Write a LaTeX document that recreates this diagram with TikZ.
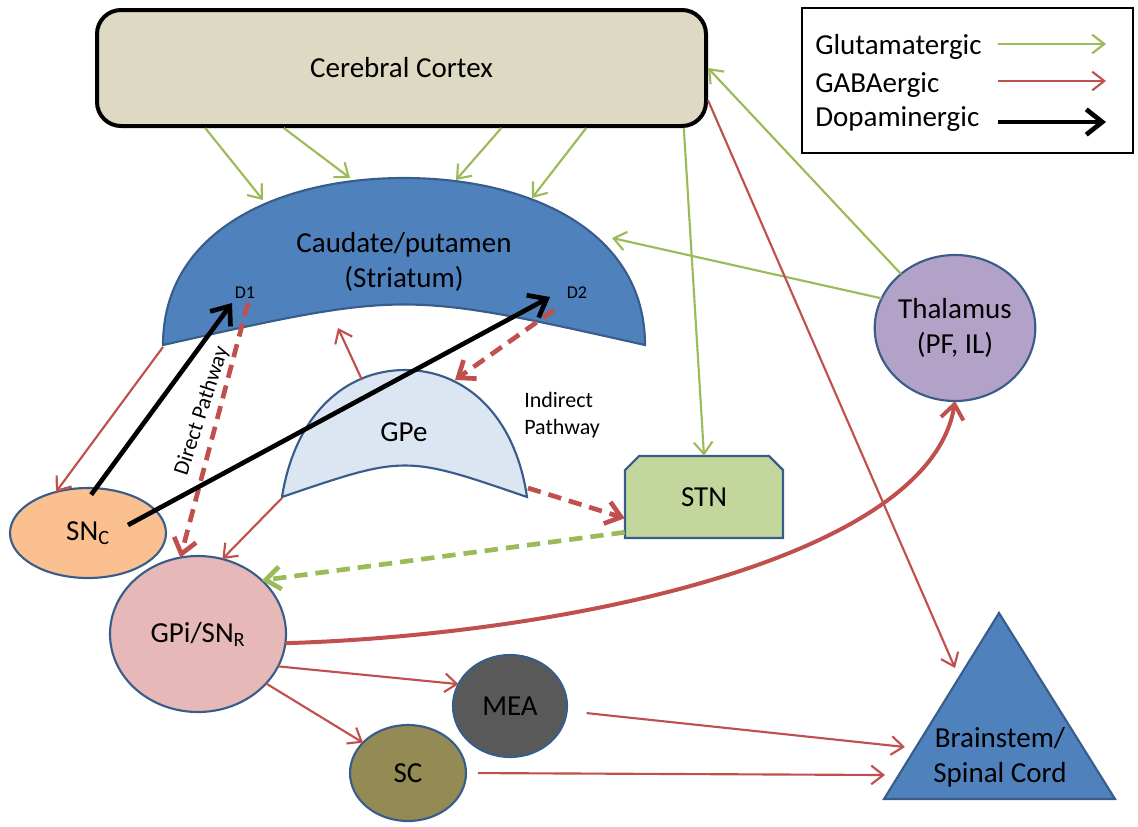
\documentclass[tikz,border=0pt]{standalone}
\usepackage{fontspec}
\setmainfont{Carlito}
\usetikzlibrary{arrows.meta,calc,shapes.geometric}
\definecolor{cortexfill}{HTML}{DDD9C3}
\definecolor{bluefill}{HTML}{4F81BD}
\definecolor{blueline}{HTML}{385D8A}
\definecolor{gpefill}{HTML}{DCE6F2}
\definecolor{stnfill}{HTML}{C3D69B}
\definecolor{thalfill}{HTML}{B3A2C7}
\definecolor{sncfill}{HTML}{FAC090}
\definecolor{gpifill}{HTML}{E6B9B8}
\definecolor{meafill}{HTML}{595959}
\definecolor{scfill}{HTML}{948A54}
\definecolor{glu}{HTML}{9BBB59}
\definecolor{gaba}{HTML}{C0504D}
\tikzset{
  shapeline/.style={draw=blueline, line width=1.6pt},
  lbl/.style={font=\fontsize{21.75}{26}\selectfont, align=center, inner sep=0pt},
  midlbl/.style={font=\fontsize{16.5}{20}\selectfont, inner sep=0pt},
  smalllbl/.style={font=\fontsize{13.5}{16}\selectfont, inner sep=0pt},
  oval/.style={ellipse, shapeline, inner sep=0pt, outer sep=0pt, font=\fontsize{21.75}{26}\selectfont},
  glut/.style={draw=glu, line width=1.6pt, -{Straight Barb[length=9pt,width=14pt]}},
  gab/.style={draw=gaba, line width=1.6pt, -{Straight Barb[length=9pt,width=14pt]}},
  gabthick/.style={draw=gaba, line width=3pt, -{Straight Barb[length=11pt,width=17pt]}},
  gabdash/.style={draw=gaba, line width=3.5pt, dash pattern=on 10pt off 6pt, -{Straight Barb[length=11pt,width=17pt]}},
  glutdash/.style={draw=glu, line width=3.5pt, dash pattern=on 10pt off 6pt, -{Straight Barb[length=11pt,width=17pt]}},
  dopa/.style={draw=black, line width=3.5pt, -{Straight Barb[length=12pt,width=19pt]}},
}
\begin{document}
\begin{tikzpicture}[x=0.75pt,y=-0.75pt]
\useasboundingbox (0,0) rectangle (1138,826);

% Cerebral cortex
\node[draw=black, line width=3pt, fill=cortexfill, rounded corners=18pt,
      minimum width=456.75pt, minimum height=87pt, font=\fontsize{21.75}{26}\selectfont]
      (cortex) at (401.5,68) {Cerebral Cortex};

% Legend
\node[draw=black, line width=2pt, minimum width=248.25pt, minimum height=108.75pt] (legend) at (967.5,80.5) {};
\node[lbl, anchor=base west] (lg1) at (815,54) {Glutamatergic};
\node[lbl, anchor=base west] (lg2) at (815,92) {GABAergic};
\node[lbl, anchor=base west] (lg3) at (815,126) {Dopaminergic};
\coordinate (la1) at (998,44);  \coordinate (lb1) at (1106,44);
\coordinate (la2) at (998,81);  \coordinate (lb2) at (1106,81);
\coordinate (la3) at (998,122); \coordinate (lb3) at (1106,122);
\draw[glut] (la1) -- (lb1);
\draw[gab] (la2) -- (lb2);
\draw[dopa] (la3) -- (lb3);

% Striatum
\draw[shapeline, fill=bluefill] (163,345) .. controls (163,230) and (280,178) .. (404,178)
   .. controls (528,178) and (645,230) .. (645,345) .. controls (404,291) .. (163,345) -- cycle;
\node[lbl] (str) at (404,262) {Caudate/putamen\\(Striatum)};
\node[smalllbl] (d1) at (245,293) {D1};
\node[smalllbl] (d2) at (577,293) {D2};

% GPe
\draw[shapeline, fill=gpefill] (282,497) .. controls (295,415) and (345,370) .. (405,370)
   .. controls (465,370) and (515,415) .. (527,497) .. controls (405,455) .. (282,497) -- cycle;
\node[lbl] (gpe) at (404,432) {GPe};

% STN
\draw[shapeline, fill=stnfill] (625,538) -- (625,470) -- (639,456) -- (769,456) -- (783,470) -- (783,538) -- cycle;
\node[lbl, minimum width=118.5pt, minimum height=61.5pt] (stn) at (704,497) {STN};

% Ellipses
\node[oval, fill=thalfill, minimum width=120pt, minimum height=109.5pt, align=center] (thal) at (955,328) {Thalamus\\(PF, IL)};
\node[oval, fill=sncfill, minimum width=117pt, minimum height=67.5pt] (snc) at (88,533) {SN\textsubscript{C}};
\node[oval, fill=gpifill, minimum width=132pt, minimum height=117pt] (gpi) at (198,634) {GPi/SN\textsubscript{R}};
\node[oval, fill=meafill, minimum width=85.5pt, minimum height=76.5pt] (mea) at (510,706) {MEA};
\node[oval, fill=scfill, minimum width=87pt, minimum height=72pt] (sc) at (408,773) {SC};

% Brainstem
\draw[shapeline, fill=bluefill] (999,613) -- (1115,799) -- (884,799) -- cycle;
\node[lbl] (bs) at (1000,757) {Brainstem/\\Spinal Cord};

% Pathway labels
\node[midlbl, rotate=72] (dp) at (202,411) {Direct Pathway};
\node[midlbl, align=left, anchor=west] (ip) at (524,415) {Indirect\\Pathway};

% connector end points
\coordinate (s1) at (263,200);
\coordinate (s2) at (350,178);
\coordinate (s3) at (456,180);
\coordinate (s4) at (532,198);
\coordinate (s5) at (612,238);
\coordinate (s6) at (163,347);
\coordinate (s7) at (338,328);
\coordinate (d1t) at (232,303);
\coordinate (d1s) at (248,303);
\coordinate (d2t) at (550,297);
\coordinate (d2s) at (554,310);
\coordinate (g1) at (362,380);
\coordinate (g2) at (455,380);
\coordinate (g3) at (282,498);
\coordinate (g4) at (528,488);
\coordinate (b1) at (955,668);
\coordinate (b2) at (905,747);
\coordinate (b3) at (885,775);

% Glutamatergic
\draw[glut] (cortex.-163.4) -- (s1);
\draw[glut] (cortex.-153.7) -- (s2);
\draw[glut] (cortex.-31.9) -- (s3);
\draw[glut] (cortex.-18.9) -- (s4);
\draw[glut] (cortex.-12.2) -- (stn.north);
\draw[glut] (thal.158) -- (s5);
\draw[glut] (thal.135) -- (cortex.east);

% GABAergic
\draw[gab] (cortex.-6.4) -- (b1);
\draw[gab] (s6) -- (snc.128);
\draw[gab] (g1) -- (s7);
\draw[gab] (g3) -- (gpi.72);
\draw[gab] (gpi.-22) -- (mea.157);
\draw[gab] (gpi.-36) -- (sc.146.6);
\draw[gab, shorten <=15pt] (mea.-5) -- (b2);
\draw[gab, shorten <=9pt] (sc.east) -- (b3);
\draw[gabthick] (gpi.-6) .. controls (560,635) and (930,560) .. (thal.south);

% dashed pathways
\draw[gabdash] (d1s) -- (gpi.103);
\draw[gabdash] (d2s) -- (g2);
\draw[gabdash] (g4) -- (stn.-165.8);
\draw[glutdash] (stn.-156) -- (gpi.40);

% Dopaminergic
\draw[dopa, shorten <=-6pt] (snc.80) -- (d1t);
\draw[dopa] ($(snc.center)+(40,-8)$) -- (d2t);
\end{tikzpicture}
\end{document}
